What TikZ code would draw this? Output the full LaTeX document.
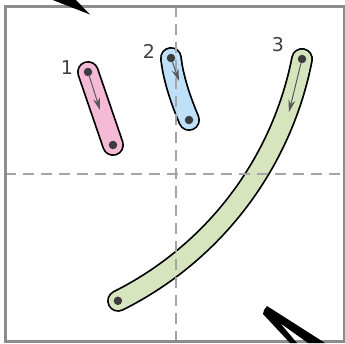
\documentclass[tikz,border=0pt]{standalone}
\usepackage{fontspec}
\setmainfont{DejaVu Sans}
\usetikzlibrary{arrows.meta}
\definecolor{segpink}{RGB}{245,186,214}
\definecolor{segblue}{RGB}{190,224,248}
\definecolor{seggreen}{RGB}{214,229,190}
\definecolor{framegray}{RGB}{140,140,140}
\definecolor{guidegray}{RGB}{165,165,165}
\definecolor{dotgray}{RGB}{60,60,60}
\tikzset{
  band/.style={draw=#1, line width=18.5pt, line cap=round,
    preaction={draw=black, line width=22pt, line cap=round}},
  enddot/.style={circle, fill=dotgray, inner sep=0pt, minimum size=8.5pt},
  dirarrow/.style={-{Stealth[length=12pt, width=7pt]}, draw=black!65, line width=1pt},
  seglabel/.style={text=black!75, font=\fontsize{19}{19}\selectfont},
  guide/.style={draw=guidegray, line width=2.5pt, dash pattern=on 11pt off 7pt}
}

\begin{document}
\begin{tikzpicture}[x=1pt, y=1pt, >=Stealth]
    \useasboundingbox (0,0) rectangle (345,343);
    \clip (0,0) rectangle (345,343);
    \draw[band=segpink] (88,271) -- (113,198);
    \draw[band=segblue] (171,285) .. controls (173,265) and (181,242) .. (189,223);
    \draw[band=seggreen] (302,284) arc[start angle=-11.04, end angle=-63.46, radius=344pt];
    \draw[guide] (176,1.5) -- (176,336.5);
    \draw[guide] (5,169) -- (344,169);
    \draw[framegray, line width=3pt] (5,1.5) rectangle (344,336.5);
    \node[enddot] (p1s) at (88,271) {};
    \node[enddot] (p1e) at (113,198) {};
    \node[enddot] (p2s) at (171,285) {};
    \node[enddot] (p2e) at (189,223) {};
    \node[enddot] (p3s) at (302,284) {};
    \node[enddot] (p3e) at (117.9,42.2) {};
    \coordinate (a1) at (100,233);
    \coordinate (a2) at (179,262);
    \coordinate (a3) at (289,231);
    \draw[dirarrow] (p1s) -- (a1);
    \draw[dirarrow] (p2s) -- (a2);
    \draw[dirarrow] (p3s) -- (a3);
    \node[seglabel] (l1) at (67,275) {1};
    \node[seglabel] (l2) at (149,292) {2};
    \node[seglabel] (l3) at (278,298) {3};
    \fill (45,346) -- (73,346) -- (90,328.5) -- cycle;
    \fill (264,33) -- (267,37) -- (325,0) -- (308,0) -- (280,20) -- (297,0) -- (290,0) -- (263,29) -- cycle;
\end{tikzpicture}
\end{document}
